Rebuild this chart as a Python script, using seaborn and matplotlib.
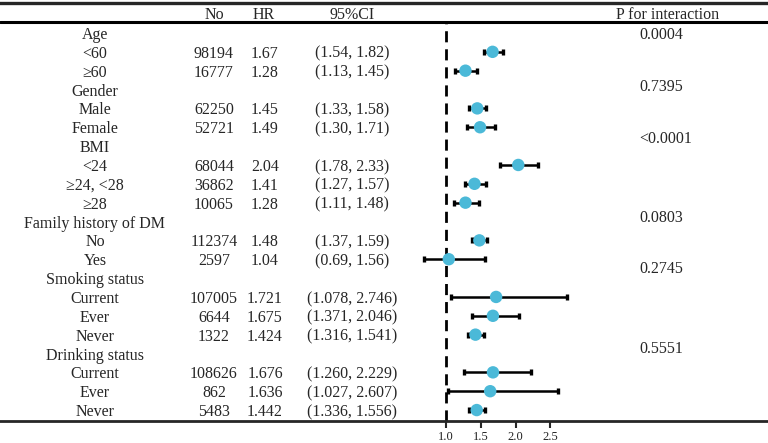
import numpy as np
import matplotlib
matplotlib.use("Agg")
import matplotlib.pyplot as plt
import seaborn as sns

# table rows (group headers have no numbers)
labels = ["Age", "<60", "≥60", "Gender", "Male", "Female", "BMI", "<24", "≥24, <28", "≥28",
          "Family history of DM", "No", "Yes", "Smoking status", "Current", "Ever", "Never",
          "Drinking status", "Current", "Ever", "Never"]
n_obs = [None, 98194, 16777, None, 62250, 52721, None, 68044, 36862, 10065,
         None, 112374, 2597, None, 107005, 6644, 1322, None, 108626, 862, 5483]
hr = [np.nan, 1.67, 1.28, np.nan, 1.45, 1.49, np.nan, 2.04, 1.41, 1.28,
      np.nan, 1.48, 1.04, np.nan, 1.721, 1.675, 1.424, np.nan, 1.676, 1.636, 1.442]
ci_low = [np.nan, 1.54, 1.13, np.nan, 1.33, 1.30, np.nan, 1.78, 1.27, 1.11,
          np.nan, 1.37, 0.69, np.nan, 1.078, 1.371, 1.316, np.nan, 1.260, 1.027, 1.336]
ci_high = [np.nan, 1.82, 1.45, np.nan, 1.58, 1.71, np.nan, 2.33, 1.57, 1.48,
           np.nan, 1.59, 1.56, np.nan, 2.746, 2.046, 1.541, np.nan, 2.229, 2.607, 1.556]
digits = [2] * 13 + [3] * 8

p_values = ["0.0004", "0.7395", "<0.0001", "0.0803", "0.2745", "0.5551"]
p_rows = [0, 2.78, 5.52, 9.71, 12.42, 16.68]

xticks = [1.0, 1.5, 2.0, 2.5]

sns.set_style("white")
plt.rcParams["font.family"] = ["Liberation Serif", "DejaVu Serif"]

fig = plt.figure(figsize=(7.68, 4.43), dpi=100)
ax = fig.add_axes([0, 22 / 443, 1, 418 / 443])

rows = np.arange(len(labels))
hr_a = np.array(hr)
lo_a = np.array(ci_low)
hi_a = np.array(ci_high)
ok = ~np.isnan(hr_a)

# confidence intervals + points
ax.errorbar(hr_a[ok], rows[ok], xerr=[hr_a[ok] - lo_a[ok], hi_a[ok] - hr_a[ok]],
            fmt="none", ecolor="black", elinewidth=1.8, capsize=2.5, capthick=2.4, zorder=2)
sns.scatterplot(x=hr_a[ok], y=rows[ok], s=80, color="#4bb9d8", edgecolor="none",
                ax=ax, zorder=3, legend=False)

# scale: 1.0 at x=446px, 0.5 per ~34.7px
ppu = 69.5
xmin = 1.0 - 446 / ppu
ax.set_xlim(xmin, xmin + 768 / ppu)
ax.set_ylim(20.58, -1.59)

ax.axvline(1.0, ymin=0, ymax=0.954, color="black", linestyle=(0, (4, 2.5)), linewidth=2, zorder=1)
ax.axhline(-0.58, color="black", linewidth=2.2)

for side in ["left", "right"]:
    ax.spines[side].set_visible(False)
ax.spines["top"].set_linewidth(2.4)
ax.spines["bottom"].set_linewidth(2)

ax.set_xticks(xticks)
ax.set_xticklabels([f"{t:.1f}" for t in xticks], fontsize=9, color="#222222")
ax.tick_params(axis="x", direction="out", length=5, width=1.5, pad=2, bottom=True)
ax.set_yticks([])
ax.set_xlabel("")
ax.set_ylabel("")

tr = ax.get_yaxis_transform()
fs = 11.5
header_y = -1.05
ax.text(214 / 768, header_y, "No", transform=tr, ha="center", va="center_baseline", fontsize=fs)
ax.text(264 / 768, header_y, "HR", transform=tr, ha="center", va="center_baseline", fontsize=fs)
ax.text(352 / 768, header_y, "95%CI", transform=tr, ha="center", va="center_baseline", fontsize=fs)
ax.text(668 / 768, header_y, "P for interaction", transform=tr, ha="center", va="center_baseline", fontsize=fs)

for i, lab in enumerate(labels):
    ax.text(95 / 768, i, lab, transform=tr, ha="center", va="center_baseline", fontsize=fs)
    if n_obs[i] is None:
        continue
    d = digits[i]
    ax.text(214 / 768, i, str(n_obs[i]), transform=tr, ha="center", va="center_baseline", fontsize=fs)
    ax.text(265 / 768, i, f"{hr[i]:.{d}f}", transform=tr, ha="center", va="center_baseline", fontsize=fs)
    ax.text(352 / 768, i, f"({ci_low[i]:.{d}f}, {ci_high[i]:.{d}f})", transform=tr,
            ha="center", va="center_baseline", fontsize=fs)

for p, r in zip(p_values, p_rows):
    ax.text(639 / 768, r, p, transform=tr, ha="left", va="center_baseline", fontsize=fs)

fig.savefig("out.png", dpi=100)
